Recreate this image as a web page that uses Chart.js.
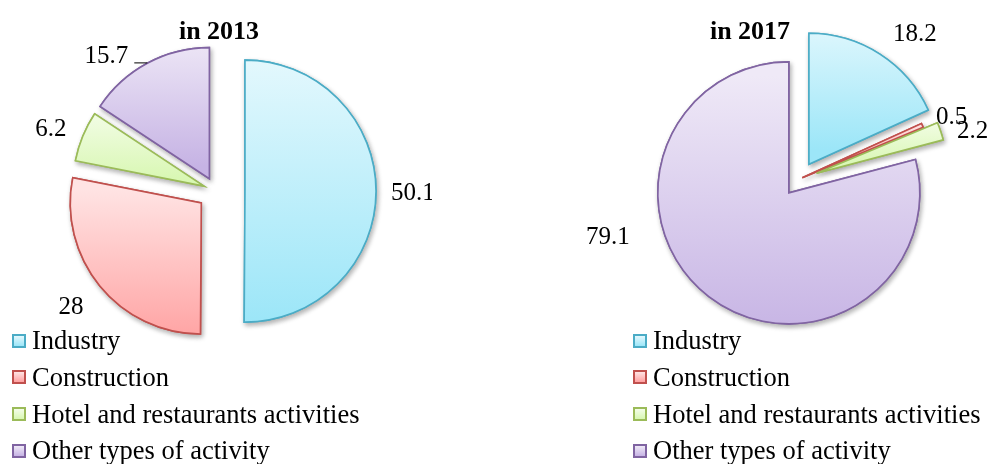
<!DOCTYPE html>
<html><head><meta charset="utf-8">
<script src="https://cdn.jsdelivr.net/npm/chart.js@4"></script>
<style>
html,body{margin:0;padding:0;background:#fff;}
body{width:990px;height:464px;position:relative;overflow:hidden;font-family:"Liberation Serif","Times New Roman",serif;color:#000;}
canvas{position:absolute;}
.title{position:absolute;font-weight:bold;font-size:26px;line-height:26px;white-space:nowrap;transform:translateX(-50%);}
.legend{position:absolute;top:0;font-size:26.5px;line-height:26.5px;}
.legend .item{position:absolute;left:32px;white-space:nowrap;}
.legend .box{position:absolute;left:12px;width:10px;height:10px;border:2px solid;}
</style>
</head><body>
<canvas id="c2013" style="left:0;top:0;width:432px;height:382px" width="432" height="382"></canvas>
<canvas id="c2017" style="left:560px;top:0;width:430px;height:358px" width="430" height="358"></canvas>
<div class="title" id="t2013" style="left:219px;top:18px"></div>
<div class="title" id="t2017" style="left:750px;top:18px"></div>
<div class="legend" id="l2013" style="left:0"></div>
<div class="legend" id="l2017" style="left:621px"></div>
<script>
// ---- data ----
const categories = ["Industry", "Construction", "Hotel and restaurants activities", "Other types of activity"];
const values2013 = [50.1, 28, 6.2, 15.7];
const values2017 = [18.2, 0.5, 2.2, 79.1];
const chartTitles = ["in 2013", "in 2017"];

// ---- style ----
const borderColors = ['#4bacc6', '#c0504d', '#9bbb59', '#8064a2'];
const gradTop = ['#e3f8fd', '#ffe3e3', '#f4fde9', '#efe9f7'];
const gradBottom = ['#9ce6f8', '#ffa0a0', '#d8f7b2', '#c6b3e4'];
const RADIUS = 131;
const explode2013 = [29, 19, 13, 14];
const explode2017 = [17.5, 3, 18, 17.5];
// label placement: angular shift (deg) from slice bisector and gap beyond radius
const place2013 = [{shift: 0, gap: 37}, {shift: 1, gap: 35}, {shift: -1.4, gap: 33}, {shift: -11.5, gap: 30, leader: true}];
const place2017 = [{shift: 6, gap: 38}, {shift: 0.8, gap: 31}, {shift: 3.2, gap: 31}, {shift: 39, gap: 55}];

function sectorYRange(cx, cy, r, a0, a1) {
  const ys = [cy, cy + r * Math.sin(a0), cy + r * Math.sin(a1)];
  for (let k = -3; k <= 4; k++) {
    const a = Math.PI / 2 + k * Math.PI;
    if (a >= a0 && a <= a1) ys.push(cy + r * Math.sin(a));
  }
  return [Math.min(...ys), Math.max(...ys)];
}

function sliceFill(explode) {
  return (context) => {
    const chart = context.chart, area = chart.chartArea;
    const i = context.dataIndex;
    if (context.type !== 'data' || !area) return gradBottom[i || 0];
    const vals = context.dataset.data;
    const total = vals.reduce((a, b) => a + b, 0);
    let cum = 0;
    for (let j = 0; j < i; j++) cum += vals[j];
    const a0 = -Math.PI / 2 + 2 * Math.PI * cum / total;
    const a1 = a0 + 2 * Math.PI * vals[i] / total;
    const mid = (a0 + a1) / 2;
    const cx = (area.left + area.right) / 2 + Math.cos(mid) * explode[i];
    const cy = (area.top + area.bottom) / 2 + Math.sin(mid) * explode[i];
    const [y0, y1] = sectorYRange(cx, cy, RADIUS, a0, a1);
    const g = chart.ctx.createLinearGradient(0, y0, 0, Math.max(y1, y0 + 1));
    g.addColorStop(0, gradTop[i]);
    g.addColorStop(1, gradBottom[i]);
    return g;
  };
}

const explodePlugin = {
  id: 'explode',
  beforeDatasetDraw(chart, args, opts) {
    const ctx = chart.ctx, ex = opts.amounts || [];
    const els = args.meta.data;
    // pass 1: shadows
    els.forEach((el, i) => {
      const mid = (el.startAngle + el.endAngle) / 2;
      ctx.save();
      ctx.translate(Math.cos(mid) * ex[i], Math.sin(mid) * ex[i]);
      ctx.shadowColor = 'rgba(0,0,0,0.30)';
      ctx.shadowBlur = 5;
      ctx.shadowOffsetX = 1.5;
      ctx.shadowOffsetY = 2.5;
      el.draw(ctx, chart.chartArea);
      ctx.restore();
    });
    // pass 2: clean slices
    els.forEach((el, i) => {
      const mid = (el.startAngle + el.endAngle) / 2;
      ctx.save();
      ctx.translate(Math.cos(mid) * ex[i], Math.sin(mid) * ex[i]);
      el.draw(ctx, chart.chartArea);
      ctx.restore();
    });
    return false;
  }
};

const labelPlugin = {
  id: 'sliceLabels',
  afterDatasetsDraw(chart, args, opts) {
    const ctx = chart.ctx, meta = chart.getDatasetMeta(0), ds = chart.data.datasets[0];
    const ex = opts.explode, place = opts.place;
    ctx.save();
    ctx.font = '25px "Liberation Serif", "Times New Roman", serif';
    ctx.fillStyle = '#000';
    ctx.textAlign = 'center';
    ctx.textBaseline = 'alphabetic';
    meta.data.forEach((el, i) => {
      const mid = (el.startAngle + el.endAngle) / 2;
      const ax = el.x + Math.cos(mid) * ex[i], ay = el.y + Math.sin(mid) * ex[i];
      const p = place[i];
      const ang = mid + p.shift * Math.PI / 180;
      const d = el.outerRadius + p.gap;
      const tx = ax + Math.cos(ang) * d, ty = ay + Math.sin(ang) * d;
      const txt = String(ds.data[i]);
      ctx.fillText(txt, tx, ty + 8.5);
      if (p.leader) {
        const w = ctx.measureText(txt).width;
        ctx.beginPath();
        ctx.strokeStyle = '#000';
        ctx.lineWidth = 1;
        ctx.moveTo(tx + w / 2 + 6, ty + 8);
        ctx.lineTo(tx + w / 2 + 19, ty + 8);
        ctx.stroke();
      }
    });
    ctx.restore();
  }
};

function makePie(id, values, explode, place, padLeft) {
  return new Chart(document.getElementById(id), {
    type: 'pie',
    data: {
      labels: categories,
      datasets: [{
        data: values,
        backgroundColor: sliceFill(explode),
        borderColor: borderColors,
        borderWidth: 1.6,
        borderJoinStyle: 'miter',
        offset: 0
      }]
    },
    options: {
      responsive: false,
      animation: false,
      radius: RADIUS,
      layout: {padding: {left: padLeft, right: 0, top: 0, bottom: 0}},
      plugins: {
        legend: {display: false},
        tooltip: {enabled: false},
        title: {display: false},
        explode: {amounts: explode},
        sliceLabels: {explode: explode, place: place}
      }
    },
    plugins: [explodePlugin, labelPlugin]
  });
}

makePie('c2013', values2013, explode2013, place2013, 0);
makePie('c2017', values2017, explode2017, place2017, 49);

document.getElementById('t2013').textContent = chartTitles[0];
document.getElementById('t2017').textContent = chartTitles[1];

function buildLegend(id) {
  const el = document.getElementById(id);
  const fs = 26.5;
  categories.forEach((name, i) => {
    const baseline = 349.3 + 36.7 * i;
    const item = document.createElement('div');
    item.className = 'item';
    item.style.top = (baseline - 0.8375 * fs) + 'px';
    item.textContent = name;
    const box = document.createElement('div');
    box.className = 'box';
    box.style.top = (baseline - 15.8) + 'px';
    box.style.borderColor = borderColors[i];
    box.style.background = 'linear-gradient(' + gradTop[i] + ',' + gradBottom[i] + ')';
    el.appendChild(box);
    el.appendChild(item);
  });
}
buildLegend('l2013');
buildLegend('l2017');
</script>
</body></html>
